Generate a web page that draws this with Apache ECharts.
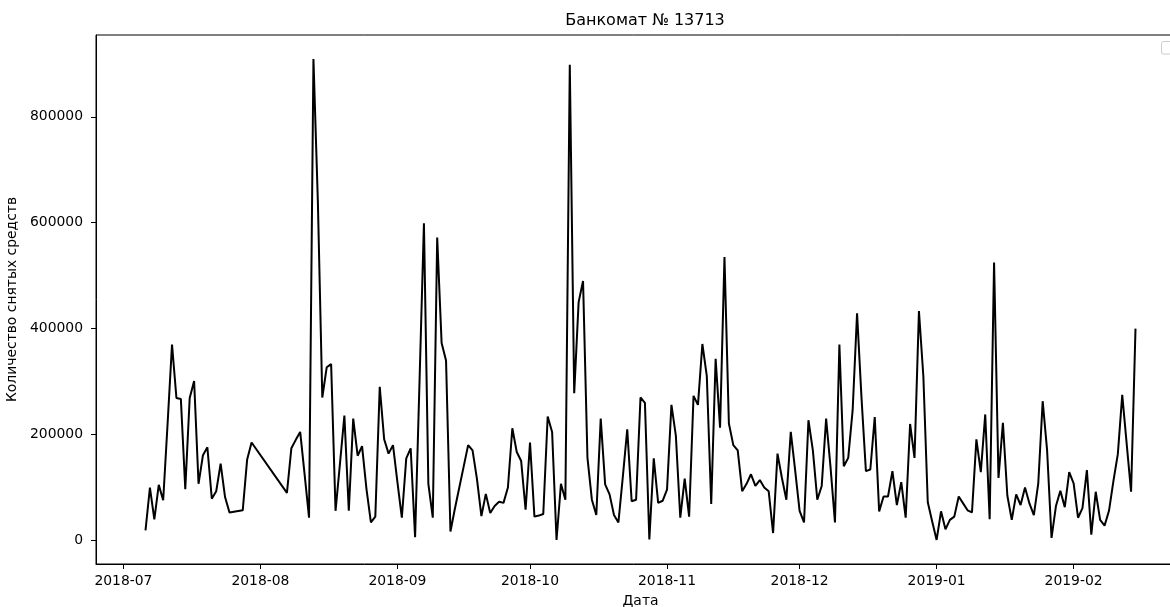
<!DOCTYPE html>
<html>
<head>
<meta charset="utf-8">
<script src="https://cdn.jsdelivr.net/npm/echarts@6/dist/echarts.min.js"></script>
<style>html,body{margin:0;padding:0;background:#fff}#chart{width:1170px;height:607px}</style>
</head>
<body>
<div id="chart"></div>
<script>
// ---- texts ----
const chartTitle = 'Банкомат № 13713';
const xAxisTitle = 'Дата';
const yAxisTitle = 'Количество снятых средств';

// ---- tick labels ----
const monthTicks = ['2018-07','2018-08','2018-09','2018-10','2018-11','2018-12','2019-01','2019-02'];
const yTicks = [0, 200000, 400000, 600000, 800000];

// ---- data: daily values, each block starts at its date and runs on day by day ----
const julyAStart = '2018-07-06';
const julyAValues = [19000,100000,40000,105000,76000,221000,370000,269000,267000,97000,269000,301000,107000,161000,176000,79000,93000,145000,82000,53000];
const julyBStart = '2018-07-28';
const julyBValues = [57000,153000,185000];
const augStart = '2018-08-07';
const augValues = [90000,174000,190000,205000,125000,43000,909000,640000,270000,327000,333000,56000,145000,236000,56000,230000,160000,178000,97000,34000,45000,290000,191000,164000,180000];
const sepStart = '2018-09-01';
const sepValues = [110000,43000,155000,174000,6000,300000,599000,107000,43000,572000,373000,340000,17000,60000,100000,140000,180000,170000,116000,46000,88000,52000,65000,73000,71000,100000,212000,167000,150000,58000];
const octStart = '2018-10-01';
const octValues = [185000,45000,47000,50000,234000,205000,1000,107000,77000,898000,278000,450000,490000,156000,77000,48000,230000,106000,87000,48000,34000,120000,210000,74000,77000,270000,260000,2000,155000,71000,75000];
const novStart = '2018-11-01';
const novValues = [96000,256000,198000,43000,117000,45000,273000,256000,371000,311000,69000,343000,213000,535000,221000,180000,170000,93000,107000,125000,103000,114000,100000,93000,14000,164000,118000,77000,205000,132000];
const decStart = '2018-12-01';
const decValues = [56000,34000,227000,170000,77000,103000,230000,138000,34000,370000,140000,156000,246000,429000,270000,131000,134000,233000,55000,83000,83000,131000,67000,110000,43000,220000,156000,433000,310000,72000,36000];
const janStart = '2019-01-01';
const janValues = [1000,55000,21000,39000,45000,83000,70000,57000,53000,191000,129000,238000,40000,525000,118000,222000,85000,39000,87000,67000,100000,70000,48000,108000,263000,170000,5000,65000,94000,63000,129000];
const febStart = '2019-02-01';
const febValues = [108000,43000,61000,133000,11000,92000,39000,28000,56000,112000,163000,275000,183000,92000,400000];

const blocks = [
  [julyAStart, julyAValues], [julyBStart, julyBValues], [augStart, augValues],
  [sepStart, sepValues], [octStart, octValues], [novStart, novValues],
  [decStart, decValues], [janStart, janValues], [febStart, febValues]
];

function ts(str) {
  const p = str.split('-').map(Number);
  return Date.UTC(p[0], p[1] - 1, p[2] || 1);
}
const seriesData = [];
blocks.forEach(([start, vals]) => {
  const p = start.split('-').map(Number);
  vals.forEach((v, i) => {
    seriesData.push([Date.UTC(p[0], p[1] - 1, p[2] + i), v]);
  });
});

const firstT = seriesData[0][0];
const lastT = seriesData[seriesData.length - 1][0];
const span = lastT - firstT;
const xMin = firstT - span * 0.05;
const xMax = lastT + span * 0.05;
const yDataMax = Math.max(...seriesData.map(d => d[1]));
const yDataMin = Math.min(...seriesData.map(d => d[1]));
const yPad = (yDataMax - yDataMin) * 0.05;

const monthTickValues = monthTicks.map(ts);
const font = 'DejaVu Sans';

function fmtMonth(v) {
  const d = new Date(v);
  return d.getUTCFullYear() + '-' + String(d.getUTCMonth() + 1).padStart(2, '0');
}

const chart = echarts.init(document.getElementById('chart'), null, {renderer: 'canvas'});
chart.setOption({
  animation: false,
  backgroundColor: '#fff',
  title: {
    text: chartTitle, left: 640, top: 8, textAlign: 'center',
    textStyle: {fontFamily: font, fontSize: 16, fontWeight: 'normal', color: '#000'}
  },
  grid: {
    left: 96, top: 35, width: 1089, height: 529, containLabel: false, outerBoundsMode: 'none',
    show: true, borderColor: '#000', borderWidth: 1, backgroundColor: 'transparent'
  },
  xAxis: {
    type: 'value', min: xMin, max: xMax, scale: true,
    name: xAxisTitle, nameLocation: 'middle', nameGap: 30,
    nameTextStyle: {fontFamily: font, fontSize: 13.9, color: '#000'},
    axisLine: {show: true, onZero: false, lineStyle: {color: '#000', width: 1}},
    axisTick: {show: true, length: 5, lineStyle: {color: '#000'}, customValues: monthTickValues},
    axisLabel: {
      fontFamily: font, fontSize: 13.9, color: '#000', margin: 10,
      customValues: monthTickValues, formatter: v => fmtMonth(v)
    },
    splitLine: {show: false}
  },
  yAxis: {
    type: 'value', min: yDataMin - yPad, max: yDataMax + yPad,
    name: yAxisTitle, nameLocation: 'middle', nameGap: 69, nameRotate: 90,
    nameTextStyle: {fontFamily: font, fontSize: 13.9, color: '#000'},
    axisLine: {show: true, onZero: false, lineStyle: {color: '#000', width: 1}},
    axisTick: {show: true, length: 5, lineStyle: {color: '#000'}, customValues: yTicks},
    axisLabel: {fontFamily: font, fontSize: 13.9, color: '#000', margin: 13, customValues: yTicks, formatter: v => String(v)},
    splitLine: {show: false}
  },
  graphic: [{
    type: 'rect', shape: {x: 1161.5, y: 41.5, width: 17, height: 12.5, r: 2},
    style: {fill: 'rgba(255,255,255,0.8)', stroke: '#cccccc', lineWidth: 1}, z: 100
  }],
  series: [{
    type: 'line', data: seriesData, showSymbol: false,
    lineStyle: {color: '#000', width: 2}, itemStyle: {color: '#000'}
  }]
});
</script>
</body>
</html>
